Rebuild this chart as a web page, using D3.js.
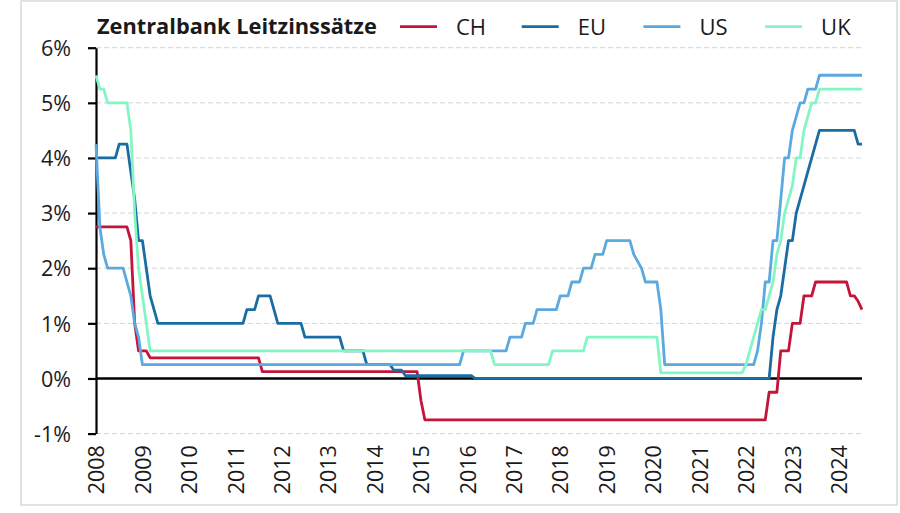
<!DOCTYPE html>
<html>
<head>
<meta charset="utf-8">
<script src="https://cdn.jsdelivr.net/npm/d3@7/dist/d3.min.js"></script>
<style>
  html, body { margin: 0; padding: 0; background: #ffffff; }
  svg { display: block; }
  text { font-family: "Open Sans", "Noto Sans", sans-serif; fill: #1a1a1a; }
</style>
</head>
<body>
<svg id="chart" width="900" height="513"></svg>
<script>
// ---- Data (vertices of each step line) ----
const title = "Zentralbank Leitzinssätze";
const seriesNames = ["CH", "EU", "US", "UK"];
const seriesColors = ["#C4143A", "#1A6DA3", "#5BA9DF", "#84F5C4"];

const yTicks = [-1, 0, 1, 2, 3, 4, 5, 6];
const yearLabels = ["2008","2009","2010","2011","2012","2013","2014","2015","2016",
                    "2017","2018","2019","2020","2021","2022","2023","2024"];
const firstMonth = "2008-01";
const lastMonth = "2024-07";

const CH = [["2008-01",2.75],["2008-09",2.75],["2008-10",2.5],["2008-11",1.0],["2008-12",0.5],
  ["2009-02",0.5],["2009-03",0.375],["2011-07",0.375],["2011-08",0.125],["2014-12",0.125],
  ["2015-01",-0.4],["2015-02",-0.75],["2022-06",-0.75],["2022-07",-0.25],["2022-09",-0.25],
  ["2022-10",0.5],["2022-12",0.5],["2023-01",1.0],["2023-03",1.0],["2023-04",1.5],
  ["2023-06",1.5],["2023-07",1.75],["2024-03",1.75],["2024-04",1.5],["2024-05",1.5],
  ["2024-06",1.4],["2024-07",1.25]];

const EU = [["2008-01",4.0],["2008-06",4.0],["2008-07",4.25],["2008-09",4.25],["2008-10",3.75],
  ["2008-11",3.25],["2008-12",2.5],["2009-01",2.5],["2009-02",2.0],["2009-03",1.5],
  ["2009-04",1.25],["2009-05",1.0],["2011-03",1.0],["2011-04",1.25],["2011-06",1.25],
  ["2011-07",1.5],["2011-10",1.5],["2011-11",1.25],["2011-12",1.0],["2012-06",1.0],
  ["2012-07",0.75],["2013-04",0.75],["2013-05",0.5],["2013-10",0.5],["2013-11",0.25],
  ["2014-05",0.25],["2014-06",0.15],["2014-08",0.15],["2014-09",0.05],["2016-02",0.05],
  ["2016-03",0.0],["2022-07",0.0],["2022-08",0.75],["2022-09",1.25],["2022-10",1.5],
  ["2022-11",2.0],["2022-12",2.5],["2023-01",2.5],["2023-02",3.0],["2023-03",3.25],
  ["2023-04",3.5],["2023-05",3.75],["2023-06",4.0],["2023-07",4.25],["2023-08",4.5],
  ["2024-05",4.5],["2024-06",4.25],["2024-07",4.25]];

const US = [["2008-01",4.25],["2008-02",2.75],["2008-03",2.25],["2008-04",2.0],["2008-08",2.0],
  ["2008-10",1.5],["2008-11",1.0],["2008-12",0.75],["2009-01",0.25],["2015-11",0.25],
  ["2015-12",0.5],["2016-11",0.5],["2016-12",0.75],["2017-03",0.75],["2017-04",1.0],
  ["2017-06",1.0],["2017-07",1.25],["2017-12",1.25],["2018-01",1.5],["2018-03",1.5],
  ["2018-04",1.75],["2018-06",1.75],["2018-07",2.0],["2018-09",2.0],["2018-10",2.25],
  ["2018-12",2.25],["2019-01",2.5],["2019-07",2.5],["2019-08",2.25],["2019-10",2.0],
  ["2019-11",1.75],["2020-02",1.75],["2020-03",1.25],["2020-04",0.25],["2022-03",0.25],
  ["2022-04",0.5],["2022-05",1.0],["2022-06",1.75],["2022-07",1.75],["2022-08",2.5],
  ["2022-09",2.5],["2022-10",3.25],["2022-11",4.0],["2022-12",4.0],["2023-01",4.5],
  ["2023-02",4.75],["2023-03",5.0],["2023-04",5.0],["2023-05",5.25],["2023-07",5.25],
  ["2023-08",5.5],["2024-07",5.5]];

const UK = [["2008-01",5.5],["2008-02",5.25],["2008-03",5.25],["2008-04",5.0],["2008-09",5.0],
  ["2008-10",4.5],["2008-11",3.0],["2008-12",2.0],["2009-01",1.5],["2009-02",1.0],
  ["2009-03",0.5],["2016-07",0.5],["2016-08",0.25],["2017-10",0.25],["2017-11",0.5],
  ["2018-07",0.5],["2018-08",0.75],["2020-02",0.75],["2020-03",0.1],["2021-12",0.1],
  ["2022-01",0.25],["2022-02",0.5],["2022-03",0.75],["2022-04",1.0],["2022-05",1.25],
  ["2022-06",1.25],["2022-07",1.5],["2022-08",1.75],["2022-09",2.25],["2022-10",2.5],
  ["2022-11",3.0],["2022-12",3.25],["2023-01",3.5],["2023-02",4.0],["2023-03",4.0],
  ["2023-04",4.5],["2023-05",4.75],["2023-06",5.0],["2023-07",5.0],["2023-08",5.25],
  ["2024-07",5.25]];

const seriesData = [CH, EU, US, UK];

// ---- Helpers ----
const monthIndex = s => { const [yy, mm] = s.split("-").map(Number); return (yy - 2008) * 12 + (mm - 1); };

// ---- Layout ----
const svg = d3.select("#chart");
const plotLeft = 96, plotRight = 862, plotTop = 47.7, plotBottom = 433.6;

const x = d3.scaleLinear().domain([monthIndex(firstMonth), monthIndex(lastMonth)]).range([plotLeft, plotRight]);
const y = d3.scaleLinear().domain([-1, 6]).range([plotBottom, plotTop]);

// chart frame
svg.append("rect").attr("x", 21).attr("y", 1).attr("width", 876).attr("height", 504)
  .attr("fill", "#ffffff").attr("stroke", "#d9d9d9").attr("stroke-width", 1.5);

// gridlines
svg.append("g").selectAll("line").data(yTicks.filter(d => d !== 0)).join("line")
  .attr("x1", plotLeft).attr("x2", plotRight)
  .attr("y1", d => y(d)).attr("y2", d => y(d))
  .attr("stroke", "#d4d4d4").attr("stroke-width", 1).attr("stroke-dasharray", "5,3");

// y axis
const yAxis = d3.axisLeft(y).tickValues(yTicks).tickSize(8).tickSizeOuter(0).tickPadding(17)
  .tickFormat(d => d + "%");
const gy = svg.append("g").attr("transform", `translate(${plotLeft},0)`).call(yAxis);
gy.select(".domain").attr("stroke", "#000").attr("stroke-width", 2.2);
gy.selectAll(".tick line").attr("stroke", "#000").attr("stroke-width", 2.2);
gy.selectAll(".tick text").attr("font-size", 21.5).attr("font-family", "Open Sans")
  .attr("fill", "#1a1a1a").attr("dy", "0.36em");

// x axis labels (rotated)
const yearTickIdx = yearLabels.map(l => monthIndex(l + "-01"));
const xAxis = d3.axisBottom(x).tickValues(yearTickIdx).tickSize(0)
  .tickFormat((d, i) => yearLabels[i]);
const gx = svg.append("g").attr("transform", `translate(0,${plotBottom})`).call(xAxis);
gx.select(".domain").remove();
gx.selectAll(".tick text")
  .attr("font-size", 21.5).attr("font-family", "Open Sans").attr("fill", "#1a1a1a")
  .attr("transform", "rotate(-90)")
  .attr("text-anchor", "end")
  .attr("x", -11.5).attr("y", 0).attr("dy", "0.36em");

// zero line
svg.append("line").attr("x1", plotLeft).attr("x2", plotRight)
  .attr("y1", y(0)).attr("y2", y(0)).attr("stroke", "#000").attr("stroke-width", 2.4);

// series lines
const line = d3.line().x(d => x(monthIndex(d[0]))).y(d => y(d[1])).curve(d3.curveLinear);
svg.append("g").selectAll("path").data(seriesData).join("path")
  .attr("d", d => line(d))
  .attr("fill", "none")
  .attr("stroke", (d, i) => seriesColors[i])
  .attr("stroke-width", 2.8)
  .attr("stroke-linejoin", "round")
  .attr("stroke-linecap", "butt");

// title (fit width to reference)
const t = svg.append("text").attr("x", 97).attr("y", 33.5)
  .attr("font-size", 20).attr("font-weight", "bold").attr("font-family", "Open Sans")
  .attr("fill", "#1a1a1a").text(title);
const tw = t.node().getComputedTextLength();
if (tw > 0) t.attr("font-size", 20 * 280 / tw);

// legend
const legendX0 = 400, legendStep = 121.7, legendY = 26.7;
const lg = svg.append("g").selectAll("g").data(seriesNames).join("g")
  .attr("transform", (d, i) => `translate(${legendX0 + i * legendStep},${legendY})`);
lg.append("line").attr("x1", 0).attr("x2", 37).attr("y1", 0).attr("y2", 0)
  .attr("stroke", (d, i) => seriesColors[i]).attr("stroke-width", 2.8);
lg.append("text").attr("x", 56).attr("y", 0).attr("dy", "0.36em")
  .attr("font-size", 22).attr("font-family", "Open Sans").attr("fill", "#1a1a1a")
  .text(d => d);
</script>
</body>
</html>
